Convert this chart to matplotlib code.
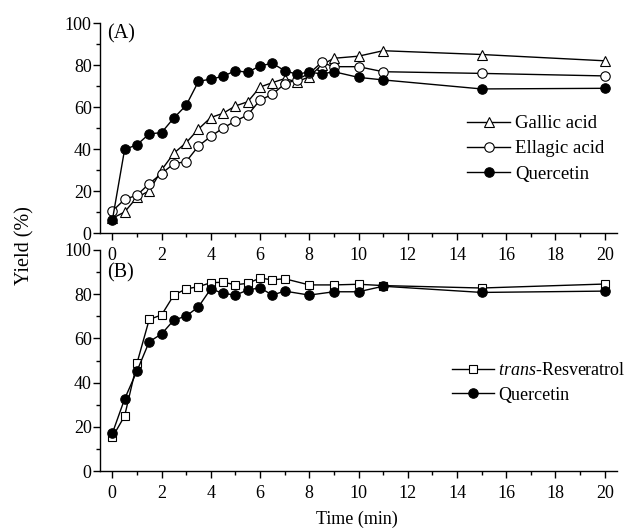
import matplotlib
matplotlib.use("Agg")
import matplotlib.pyplot as plt
from matplotlib.ticker import MultipleLocator

plt.rcParams['font.family'] = ['Liberation Serif', 'DejaVu Serif']
plt.rcParams['font.size'] = 13
plt.rcParams['mathtext.fontset'] = 'custom'
plt.rcParams['mathtext.rm'] = 'Liberation Serif'
plt.rcParams['mathtext.it'] = 'Liberation Serif:italic'

# Panel A data
time_a = [0, 0.5, 1, 1.5, 2, 2.5, 3, 3.5, 4, 4.5, 5, 5.5, 6, 6.5, 7, 7.5, 8, 8.5, 9, 10, 11, 15, 20]
gallic = [7, 10, 17, 20, 30, 38, 43, 49.5, 55, 57, 60.5, 62.5, 69.5, 71.6, 73.5, 72, 74.4, 80, 83.2, 84.2, 86.8, 85, 82]
ellagic = [10.4, 16, 18, 23.5, 28.3, 33, 34, 41.4, 46, 50, 53.3, 56.2, 63.3, 66, 71, 73, 76, 81.2, 79.2, 79.2, 76.8, 76, 74.8]
quercetin_a = [6, 39.8, 42, 47.2, 47.8, 54.8, 60.8, 72.2, 73.3, 74.6, 77.3, 76.5, 79.6, 80.8, 77.3, 75.6, 76.7, 75.7, 76.8, 74.1, 72.9, 68.6, 68.9]

# Panel B data
time_b = [0, 0.5, 1, 1.5, 2, 2.5, 3, 3.5, 4, 4.5, 5, 5.5, 6, 6.5, 7, 8, 9, 10, 11, 15, 20]
resveratrol = [15.2, 24.9, 48.7, 68.6, 70.6, 79.6, 82.4, 83.4, 85.2, 85.4, 84.3, 84.9, 87.3, 86.5, 87, 84.2, 84.2, 84.5, 83.9, 82.8, 84.6]
quercetin_b = [17, 32.6, 45.2, 58.5, 62, 68.3, 70.1, 74.3, 82.4, 80.4, 79.6, 81.9, 82.9, 79.6, 81.4, 79.6, 81.1, 81.1, 83.6, 80.8, 81.4]

fig = plt.figure(figsize=(6.34, 5.30), dpi=100)
W, H = 634, 530

def make_ax(left, right, top, bottom):
    return fig.add_axes([left / W, 1 - bottom / H, (right - left) / W, (bottom - top) / H])

axA = make_ax(100, 617, 23, 233)
axB = make_ax(100, 617, 250, 471)

lw = 1.0
ms = 6.8
mew = 0.8

axA.plot(time_a, gallic, '-', color='black', lw=lw, marker='^', ms=ms + 0.6,
         mfc='white', mec='black', mew=mew, label='Gallic acid')
axA.plot(time_a, ellagic, '-', color='black', lw=lw, marker='o', ms=ms,
         mfc='white', mec='black', mew=mew, label='Ellagic acid')
axA.plot(time_a, quercetin_a, '-', color='black', lw=lw, marker='o', ms=ms,
         mfc='black', mec='black', mew=mew, label='Quercetin')

axB.plot(time_b, resveratrol, '-', color='black', lw=lw, marker='s', ms=ms - 0.4,
         mfc='white', mec='black', mew=mew, label=r'$\mathit{trans}$-Resveratrol')
axB.plot(time_b, quercetin_b, '-', color='black', lw=lw, marker='o', ms=ms,
         mfc='black', mec='black', mew=mew, label='Quercetin')

for ax in (axA, axB):
    ax.set_xlim(-0.5, 20.5)
    ax.set_ylim(0, 100)
    ax.spines['top'].set_visible(False)
    ax.spines['right'].set_visible(False)
    ax.spines['left'].set_linewidth(1.0)
    ax.spines['bottom'].set_linewidth(1.0)
    ax.xaxis.set_major_locator(MultipleLocator(2))
    ax.xaxis.set_minor_locator(MultipleLocator(1))
    ax.yaxis.set_major_locator(MultipleLocator(20))
    ax.yaxis.set_minor_locator(MultipleLocator(10))
    ax.tick_params(which='major', direction='out', length=5, width=1.0, labelsize=13)
    ax.tick_params(which='minor', direction='out', length=3, width=1.0)
    ax.tick_params(axis='x', which='major', pad=5)
    ax.tick_params(axis='y', which='major', pad=1)
    ax.patch.set_alpha(0)

axA.text(0.013, 0.95, '(A)', transform=axA.transAxes, fontsize=14.5, va='center', ha='left')
axB.text(0.013, 0.895, '(B)', transform=axB.transAxes, fontsize=14.5, va='center', ha='left')

leg_kw = dict(bbox_transform=fig.transFigure, frameon=False, fontsize=13.5,
              handlelength=2.3, handletextpad=0.27, labelspacing=0.43,
              borderpad=0, borderaxespad=0, loc='upper left')
legA = axA.legend(bbox_to_anchor=(467 / W, 1 - 115 / H), **leg_kw)
leg_kw['fontsize'] = 13
legB = axB.legend(bbox_to_anchor=(452 / W, 1 - 362 / H), **leg_kw)

fig.text(25 / W, 1 - 246 / H, 'Yield (%)', rotation=90, ha='center', va='center', fontsize=14.5)
fig.text(357 / W, 1 - 519 / H, 'Time (min)', ha='center', va='center', fontsize=13)

fig.savefig('out.png', dpi=100)
